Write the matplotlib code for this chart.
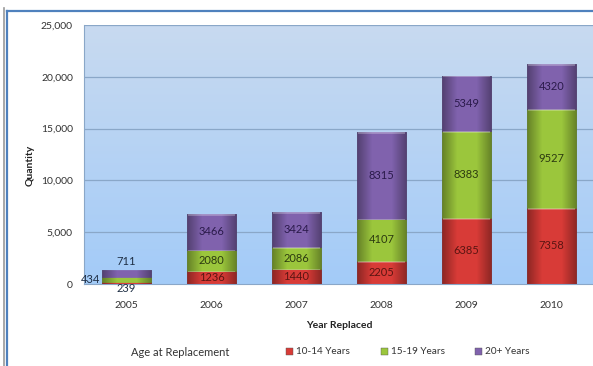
import numpy as np
import matplotlib
matplotlib.use("Agg")
import matplotlib.pyplot as plt
from matplotlib.patches import Rectangle
from matplotlib.lines import Line2D

plt.rcParams['font.family'] = ['Lato', 'DejaVu Sans']

years = ['2005', '2006', '2007', '2008', '2009', '2010']
age_10_14 = [239, 1236, 1440, 2205, 6385, 7358]
age_15_19 = [434, 2080, 2086, 4107, 8383, 9527]
age_20_plus = [711, 3466, 3424, 8315, 5349, 4320]
series_names = ['10-14 Years', '15-19 Years', '20+ Years']
series_colors = ['#d83b37', '#9bc63c', '#8062ad']
text_colors = ['#5a1512', '#2c3a10', '#2a1a4a']

fig = plt.figure(figsize=(5.93, 3.66), dpi=100)
fig.patch.set_facecolor('white')

# outer frame lines
fig.add_artist(Line2D([3.5 / 593, 3.5 / 593], [0, 1 - 8 / 366], color='#9a9a9a', lw=1.2))
fig.add_artist(Line2D([6.5 / 593, 6.5 / 593], [0, 1 - 11 / 366], color='#4f81bd', lw=1.6))
fig.add_artist(Line2D([6.5 / 593, 1], [1 - 11 / 366, 1 - 11 / 366], color='#4f81bd', lw=1.6))

ax = fig.add_axes([84 / 593, 1 - 284 / 366, 510 / 593, 259 / 366])
ax.set_xlim(-0.5, 5.5)
ax.set_ylim(0, 25000)

# gradient plot background
top = np.array(matplotlib.colors.to_rgb('#c8daf0'))
bot = np.array(matplotlib.colors.to_rgb('#a3cbf8'))
t = np.linspace(0, 1, 256)[:, None]
bg = (top * (1 - t) + bot * t)[:, None, :].repeat(2, axis=1)
ax.imshow(bg, extent=(-0.5, 5.5, 0, 25000), aspect='auto', zorder=0, origin='upper')

for y in range(5000, 25001, 5000):
    ax.axhline(y, color='#8aa7c8', lw=0.9, zorder=1)

x = np.arange(len(years))
width = 0.58
bottoms = np.zeros(len(years))
shade = np.concatenate([np.linspace(0.35, 0.0, 20), np.zeros(24), np.linspace(0.0, 0.35, 20)])
shade_img = np.zeros((1, len(shade), 4))
shade_img[..., 3] = shade

for vals, color, tcol in zip([age_10_14, age_15_19, age_20_plus], series_colors, text_colors):
    bars = ax.bar(x, vals, width, bottom=bottoms, color=color,
                  edgecolor=matplotlib.colors.to_rgba(color, 0.9), lw=0.6, zorder=2)
    for bar, v, b in zip(bars, vals, bottoms):
        x0 = bar.get_x()
        im = ax.imshow(shade_img, extent=(x0, x0 + width, b, b + v), aspect='auto', zorder=3)
        im.set_clip_path(bar)
        # light bevel along the top of each segment
        ax.add_patch(Rectangle((x0 + 0.01, b + v - min(v * 0.06, 180)), width - 0.02,
                               min(v * 0.06, 180), color='white', alpha=0.25, lw=0, zorder=4))
    bottoms = bottoms + np.array(vals)

    for i, (v, b) in enumerate(zip(vals, bottoms - np.array(vals))):
        if i == 0:
            continue
        ax.text(x[i], b + v / 2, str(v), ha='center', va='center', fontsize=8,
                color=tcol, zorder=5)

# small 2005 stack gets labels outside the bar
ax.text(x[0], -480, str(age_10_14[0]), ha='center', va='center', fontsize=8, color='#1f2f45',
        clip_on=False)
ax.text(x[0] - width / 2 - 0.02, age_10_14[0] + age_15_19[0] / 2, str(age_15_19[0]),
        ha='right', va='center', fontsize=8, color='#1f2f45')
ax.text(x[0], bottoms[0] + 250, str(age_20_plus[0]), ha='center', va='bottom', fontsize=8,
        color='#1f2f45')

ax.set_xticks(x)
ax.set_xticklabels(years)
ax.set_yticks(range(0, 25001, 5000))
ax.set_yticklabels(['{:,}'.format(v) for v in range(0, 25001, 5000)])
ax.tick_params(length=0, labelsize=7.5, colors='#333333')
ax.tick_params(axis='x', pad=12)
ax.tick_params(axis='y', pad=8)
for s in ax.spines.values():
    s.set_visible(False)
ax.spines['left'].set_visible(True)
ax.spines['left'].set_color('#8aa7c8')
ax.spines['bottom'].set_visible(True)
ax.spines['bottom'].set_color('#8aa7c8')

ax.set_xlabel('Year Replaced', fontsize=7.5, fontweight='bold', color='#222222', labelpad=8)
fig.text(30 / 593, 1 - 165 / 366, 'Quantity', rotation=90, ha='center', va='center',
         fontsize=7.5, fontweight='bold', color='#222222')

# legend row
fig.text(180 / 593, 1 - 352 / 366, 'Age at Replacement', ha='center', va='center',
         fontsize=8, color='#333333')
handles = [Rectangle((0, 0), 1, 1, facecolor=c, edgecolor='#555555', lw=0.3) for c in series_colors]
fig.legend(handles, series_names, loc='center', bbox_to_anchor=(408 / 593, 1 - 352 / 366),
           ncol=3, frameon=False, fontsize=7.2, handlelength=0.7, handleheight=0.7,
           handletextpad=0.3, columnspacing=3.05, labelcolor='#333333')

fig.savefig('out.png', dpi=100)
